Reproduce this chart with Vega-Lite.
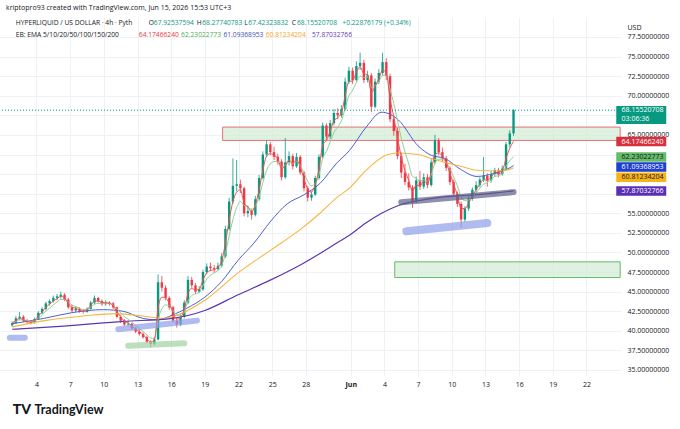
{
  "$schema": "https://vega.github.io/schema/vega-lite/v6.json",
  "autosize": "none",
  "width": 621,
  "height": 359,
  "padding": {"left": 0, "top": 17, "right": 59, "bottom": 53},
  "background": "#ffffff",
  "title": {
    "text": "kriptopro93 created with TradingView.com, Jun 15, 2026 15:53 UTC+3",
    "anchor": "start", "frame": "group", "offset": 6, "dx": 6,
    "fontSize": 7, "fontWeight": "normal", "color": "#131722"
  },
  "datasets": {
    "candles": [
      {"t":"2026-05-01T20:00","o":40.7,"h":41.2,"l":40.5,"c":41.0,"r":41.0,"g":41.0},
      {"t":"2026-05-02T04:00","o":41.0,"h":41.9,"l":40.9,"c":41.6,"r":41.3,"g":41.2},
      {"t":"2026-05-02T12:00","o":41.6,"h":42.4,"l":41.4,"c":41.8,"r":41.6,"g":41.4},
      {"t":"2026-05-02T20:00","o":41.8,"h":42.0,"l":41.1,"c":41.3,"r":41.4,"g":41.4},
      {"t":"2026-05-03T04:00","o":41.3,"h":41.5,"l":40.9,"c":41.1,"r":41.2,"g":41.3},
      {"t":"2026-05-03T12:00","o":41.1,"h":41.3,"l":40.8,"c":41.0,"r":41.1,"g":41.2},
      {"t":"2026-05-03T20:00","o":41.0,"h":41.7,"l":40.9,"c":41.5,"r":41.3,"g":41.3},
      {"t":"2026-05-04T04:00","o":41.5,"h":42.5,"l":41.4,"c":42.3,"r":41.9,"g":41.6},
      {"t":"2026-05-04T12:00","o":42.3,"h":43.0,"l":42.1,"c":42.8,"r":42.4,"g":42.0},
      {"t":"2026-05-04T20:00","o":42.8,"h":43.7,"l":42.6,"c":43.5,"r":43.0,"g":42.5},
      {"t":"2026-05-05T04:00","o":43.5,"h":44.0,"l":43.2,"c":43.8,"r":43.4,"g":42.9},
      {"t":"2026-05-05T12:00","o":43.8,"h":44.5,"l":43.6,"c":44.2,"r":43.8,"g":43.3},
      {"t":"2026-05-05T20:00","o":44.2,"h":44.7,"l":43.9,"c":44.4,"r":44.1,"g":43.7},
      {"t":"2026-05-06T04:00","o":44.4,"h":45.0,"l":44.1,"c":44.6,"r":44.4,"g":44.0},
      {"t":"2026-05-06T12:00","o":44.6,"h":44.8,"l":43.8,"c":44.0,"r":44.2,"g":44.0},
      {"t":"2026-05-06T20:00","o":44.0,"h":44.2,"l":42.8,"c":43.0,"r":43.5,"g":43.7},
      {"t":"2026-05-07T04:00","o":43.0,"h":43.3,"l":42.4,"c":42.6,"r":43.0,"g":43.3},
      {"t":"2026-05-07T12:00","o":42.6,"h":43.1,"l":42.4,"c":42.8,"r":42.9,"g":43.1},
      {"t":"2026-05-07T20:00","o":42.8,"h":43.0,"l":42.3,"c":42.5,"r":42.7,"g":42.9},
      {"t":"2026-05-08T04:00","o":42.5,"h":42.8,"l":42.2,"c":42.4,"r":42.5,"g":42.7},
      {"t":"2026-05-08T12:00","o":42.4,"h":43.0,"l":42.3,"c":42.8,"r":42.7,"g":42.7},
      {"t":"2026-05-08T20:00","o":42.8,"h":43.8,"l":42.7,"c":43.6,"r":43.2,"g":43.0},
      {"t":"2026-05-09T04:00","o":43.6,"h":44.5,"l":43.4,"c":44.2,"r":43.8,"g":43.4},
      {"t":"2026-05-09T12:00","o":44.2,"h":44.3,"l":43.6,"c":43.8,"r":43.8,"g":43.5},
      {"t":"2026-05-09T20:00","o":43.8,"h":44.0,"l":43.2,"c":43.4,"r":43.6,"g":43.5},
      {"t":"2026-05-10T04:00","o":43.4,"h":43.9,"l":43.2,"c":43.6,"r":43.6,"g":43.5},
      {"t":"2026-05-10T12:00","o":43.6,"h":43.8,"l":43.2,"c":43.5,"r":43.5,"g":43.5},
      {"t":"2026-05-10T20:00","o":43.5,"h":43.7,"l":42.8,"c":43.0,"r":43.2,"g":43.3},
      {"t":"2026-05-11T04:00","o":43.0,"h":43.1,"l":41.6,"c":41.8,"r":42.4,"g":42.8},
      {"t":"2026-05-11T12:00","o":41.8,"h":42.0,"l":41.0,"c":41.3,"r":41.8,"g":42.3},
      {"t":"2026-05-11T20:00","o":41.3,"h":41.5,"l":40.6,"c":40.8,"r":41.2,"g":41.8},
      {"t":"2026-05-12T04:00","o":40.8,"h":41.3,"l":40.6,"c":40.9,"r":41.0,"g":41.5},
      {"t":"2026-05-12T12:00","o":40.9,"h":41.0,"l":40.1,"c":40.3,"r":40.6,"g":41.1},
      {"t":"2026-05-12T20:00","o":40.3,"h":40.5,"l":39.7,"c":39.9,"r":40.2,"g":40.7},
      {"t":"2026-05-13T04:00","o":39.9,"h":40.2,"l":39.4,"c":39.6,"r":39.9,"g":40.3},
      {"t":"2026-05-13T12:00","o":39.6,"h":39.8,"l":39.0,"c":39.2,"r":39.5,"g":39.9},
      {"t":"2026-05-13T20:00","o":39.2,"h":39.4,"l":38.4,"c":38.6,"r":39.0,"g":39.5},
      {"t":"2026-05-14T04:00","o":38.6,"h":38.8,"l":37.9,"c":38.3,"r":38.6,"g":39.1},
      {"t":"2026-05-14T12:00","o":38.3,"h":39.2,"l":38.1,"c":38.9,"r":38.8,"g":39.0},
      {"t":"2026-05-14T20:00","o":38.9,"h":47.2,"l":38.8,"c":46.2,"r":42.9,"g":41.4},
      {"t":"2026-05-15T04:00","o":46.2,"h":47.0,"l":45.0,"c":45.5,"r":44.3,"g":42.8},
      {"t":"2026-05-15T12:00","o":45.5,"h":45.8,"l":43.9,"c":44.2,"r":44.2,"g":43.3},
      {"t":"2026-05-15T20:00","o":44.2,"h":44.4,"l":42.7,"c":43.0,"r":43.5,"g":43.2},
      {"t":"2026-05-16T04:00","o":43.0,"h":43.2,"l":41.0,"c":41.3,"r":42.3,"g":42.6},
      {"t":"2026-05-16T12:00","o":41.3,"h":41.6,"l":40.4,"c":40.8,"r":41.5,"g":42.0},
      {"t":"2026-05-16T20:00","o":40.8,"h":42.1,"l":40.6,"c":41.8,"r":41.7,"g":41.9},
      {"t":"2026-05-17T04:00","o":41.8,"h":43.9,"l":41.6,"c":43.6,"r":42.7,"g":42.5},
      {"t":"2026-05-17T12:00","o":43.6,"h":47.0,"l":43.4,"c":46.5,"r":44.8,"g":43.8},
      {"t":"2026-05-17T20:00","o":46.5,"h":46.9,"l":45.5,"c":45.8,"r":45.4,"g":44.5},
      {"t":"2026-05-18T04:00","o":45.8,"h":46.1,"l":44.7,"c":45.0,"r":45.2,"g":44.7},
      {"t":"2026-05-18T12:00","o":45.0,"h":45.7,"l":44.8,"c":45.3,"r":45.3,"g":44.9},
      {"t":"2026-05-18T20:00","o":45.3,"h":47.8,"l":45.1,"c":47.5,"r":46.5,"g":45.8},
      {"t":"2026-05-19T04:00","o":47.5,"h":48.6,"l":47.2,"c":48.2,"r":47.4,"g":46.6},
      {"t":"2026-05-19T12:00","o":48.2,"h":48.7,"l":47.6,"c":48.0,"r":47.7,"g":47.1},
      {"t":"2026-05-19T20:00","o":48.0,"h":48.4,"l":47.4,"c":47.9,"r":47.8,"g":47.4},
      {"t":"2026-05-20T04:00","o":47.9,"h":48.7,"l":47.7,"c":48.3,"r":48.1,"g":47.7},
      {"t":"2026-05-20T12:00","o":48.3,"h":49.9,"l":48.1,"c":49.5,"r":48.9,"g":48.3},
      {"t":"2026-05-20T20:00","o":49.5,"h":53.4,"l":49.3,"c":53.0,"r":51.2,"g":49.9},
      {"t":"2026-05-21T04:00","o":53.0,"h":57.0,"l":52.8,"c":56.5,"r":54.1,"g":52.1},
      {"t":"2026-05-21T12:00","o":56.5,"h":62.0,"l":56.2,"c":58.5,"r":56.5,"g":54.2},
      {"t":"2026-05-21T20:00","o":58.5,"h":61.8,"l":57.8,"c":58.7,"r":57.7,"g":55.7},
      {"t":"2026-05-22T04:00","o":58.7,"h":59.3,"l":57.6,"c":58.2,"r":58.0,"g":56.5},
      {"t":"2026-05-22T12:00","o":58.2,"h":58.4,"l":54.6,"c":55.0,"r":56.3,"g":56.0},
      {"t":"2026-05-22T20:00","o":55.0,"h":56.0,"l":54.5,"c":55.3,"r":55.8,"g":55.8},
      {"t":"2026-05-23T04:00","o":55.3,"h":55.6,"l":54.2,"c":54.8,"r":55.2,"g":55.5},
      {"t":"2026-05-23T12:00","o":54.8,"h":57.2,"l":54.6,"c":56.8,"r":56.1,"g":55.9},
      {"t":"2026-05-23T20:00","o":56.8,"h":59.9,"l":56.6,"c":59.5,"r":58.0,"g":57.1},
      {"t":"2026-05-24T04:00","o":59.5,"h":62.9,"l":59.3,"c":62.5,"r":60.5,"g":58.9},
      {"t":"2026-05-24T12:00","o":62.5,"h":64.3,"l":62.2,"c":63.8,"r":62.3,"g":60.5},
      {"t":"2026-05-24T20:00","o":63.8,"h":64.1,"l":62.4,"c":62.8,"r":62.6,"g":61.3},
      {"t":"2026-05-25T04:00","o":62.8,"h":63.5,"l":61.8,"c":62.2,"r":62.4,"g":61.6},
      {"t":"2026-05-25T12:00","o":62.2,"h":62.6,"l":61.2,"c":61.6,"r":62.0,"g":61.6},
      {"t":"2026-05-25T20:00","o":61.6,"h":61.9,"l":59.2,"c":59.6,"r":60.7,"g":60.9},
      {"t":"2026-05-26T04:00","o":59.6,"h":64.6,"l":59.4,"c":61.5,"r":61.1,"g":61.1},
      {"t":"2026-05-26T12:00","o":61.5,"h":62.9,"l":61.1,"c":62.3,"r":61.8,"g":61.5},
      {"t":"2026-05-26T20:00","o":62.3,"h":62.6,"l":60.6,"c":61.0,"r":61.4,"g":61.3},
      {"t":"2026-05-27T04:00","o":61.0,"h":62.7,"l":60.8,"c":62.2,"r":61.8,"g":61.6},
      {"t":"2026-05-27T12:00","o":62.2,"h":62.4,"l":59.9,"c":60.2,"r":60.9,"g":61.1},
      {"t":"2026-05-27T20:00","o":60.2,"h":60.4,"l":57.8,"c":58.2,"r":59.4,"g":60.1},
      {"t":"2026-05-28T04:00","o":58.2,"h":58.5,"l":56.5,"c":57.0,"r":58.1,"g":59.1},
      {"t":"2026-05-28T12:00","o":57.0,"h":57.8,"l":56.6,"c":57.4,"r":57.7,"g":58.5},
      {"t":"2026-05-28T20:00","o":57.4,"h":59.8,"l":57.2,"c":59.5,"r":58.7,"g":58.8},
      {"t":"2026-05-29T04:00","o":59.5,"h":62.5,"l":59.3,"c":62.2,"r":60.6,"g":59.9},
      {"t":"2026-05-29T12:00","o":62.2,"h":66.6,"l":62.0,"c":66.2,"r":63.7,"g":62.0},
      {"t":"2026-05-29T20:00","o":66.2,"h":66.5,"l":64.3,"c":64.8,"r":64.3,"g":62.9},
      {"t":"2026-05-30T04:00","o":64.8,"h":66.9,"l":64.5,"c":66.5,"r":65.5,"g":64.1},
      {"t":"2026-05-30T12:00","o":66.5,"h":68.3,"l":66.2,"c":67.8,"r":66.8,"g":65.3},
      {"t":"2026-05-30T20:00","o":67.8,"h":68.4,"l":67.0,"c":67.5,"r":67.2,"g":66.0},
      {"t":"2026-05-31T04:00","o":67.5,"h":68.8,"l":67.2,"c":68.3,"r":67.8,"g":66.8},
      {"t":"2026-05-31T12:00","o":68.3,"h":72.3,"l":68.1,"c":71.8,"r":70.0,"g":68.4},
      {"t":"2026-05-31T20:00","o":71.8,"h":73.7,"l":71.5,"c":73.2,"r":71.8,"g":70.0},
      {"t":"2026-06-01T04:00","o":73.2,"h":73.6,"l":71.5,"c":72.0,"r":71.9,"g":70.7},
      {"t":"2026-06-01T12:00","o":72.0,"h":74.4,"l":71.8,"c":73.8,"r":73.0,"g":71.7},
      {"t":"2026-06-01T20:00","o":73.8,"h":75.5,"l":73.3,"c":74.2,"r":73.7,"g":72.5},
      {"t":"2026-06-02T04:00","o":74.2,"h":74.6,"l":71.6,"c":72.0,"r":72.8,"g":72.3},
      {"t":"2026-06-02T12:00","o":72.0,"h":73.2,"l":71.7,"c":72.6,"r":72.7,"g":72.4},
      {"t":"2026-06-02T20:00","o":72.6,"h":72.9,"l":67.9,"c":68.6,"r":70.4,"g":71.1},
      {"t":"2026-06-03T04:00","o":68.6,"h":72.2,"l":68.4,"c":71.8,"r":71.2,"g":71.3},
      {"t":"2026-06-03T12:00","o":71.8,"h":73.4,"l":71.5,"c":72.9,"r":72.1,"g":71.8},
      {"t":"2026-06-03T20:00","o":72.9,"h":75.5,"l":72.6,"c":74.3,"r":73.3,"g":72.6},
      {"t":"2026-06-04T04:00","o":74.3,"h":74.8,"l":72.0,"c":72.5,"r":72.9,"g":72.6},
      {"t":"2026-06-04T12:00","o":72.5,"h":72.8,"l":66.6,"c":67.0,"r":69.6,"g":70.8},
      {"t":"2026-06-04T20:00","o":67.0,"h":67.5,"l":64.9,"c":65.5,"r":67.3,"g":69.0},
      {"t":"2026-06-05T04:00","o":65.5,"h":65.9,"l":61.9,"c":62.3,"r":64.6,"g":66.8},
      {"t":"2026-06-05T12:00","o":62.3,"h":62.8,"l":59.5,"c":60.2,"r":62.2,"g":64.6},
      {"t":"2026-06-05T20:00","o":60.2,"h":61.3,"l":58.6,"c":59.0,"r":60.4,"g":62.8},
      {"t":"2026-06-06T04:00","o":59.0,"h":60.1,"l":57.9,"c":58.3,"r":59.2,"g":61.3},
      {"t":"2026-06-06T12:00","o":58.3,"h":58.6,"l":55.7,"c":56.6,"r":57.8,"g":59.7},
      {"t":"2026-06-06T20:00","o":56.6,"h":59.7,"l":56.3,"c":59.2,"r":58.6,"g":59.5},
      {"t":"2026-06-07T04:00","o":59.2,"h":60.4,"l":58.0,"c":58.4,"r":58.5,"g":59.1},
      {"t":"2026-06-07T12:00","o":58.4,"h":60.1,"l":58.1,"c":59.6,"r":59.1,"g":59.3},
      {"t":"2026-06-07T20:00","o":59.6,"h":60.0,"l":58.2,"c":58.6,"r":58.8,"g":59.1},
      {"t":"2026-06-08T04:00","o":58.6,"h":61.9,"l":58.4,"c":61.5,"r":60.3,"g":59.9},
      {"t":"2026-06-08T12:00","o":61.5,"h":65.0,"l":61.3,"c":64.3,"r":62.5,"g":61.4},
      {"t":"2026-06-08T20:00","o":64.3,"h":64.6,"l":62.4,"c":62.8,"r":62.7,"g":61.9},
      {"t":"2026-06-09T04:00","o":62.8,"h":63.4,"l":61.6,"c":62.0,"r":62.3,"g":61.9},
      {"t":"2026-06-09T12:00","o":62.0,"h":62.3,"l":60.4,"c":60.8,"r":61.5,"g":61.5},
      {"t":"2026-06-09T20:00","o":60.8,"h":61.0,"l":58.6,"c":59.0,"r":60.1,"g":60.7},
      {"t":"2026-06-10T04:00","o":59.0,"h":59.3,"l":57.1,"c":57.5,"r":58.7,"g":59.6},
      {"t":"2026-06-10T12:00","o":57.5,"h":57.8,"l":55.8,"c":56.2,"r":57.3,"g":58.5},
      {"t":"2026-06-10T20:00","o":56.2,"h":56.5,"l":53.2,"c":54.2,"r":55.6,"g":57.1},
      {"t":"2026-06-11T04:00","o":54.2,"h":55.9,"l":53.9,"c":55.6,"r":55.6,"g":56.6},
      {"t":"2026-06-11T12:00","o":55.6,"h":57.2,"l":55.3,"c":56.9,"r":56.3,"g":56.7},
      {"t":"2026-06-11T20:00","o":56.9,"h":58.3,"l":56.6,"c":58.0,"r":57.2,"g":57.1},
      {"t":"2026-06-12T04:00","o":58.0,"h":59.1,"l":57.7,"c":58.6,"r":58.0,"g":57.6},
      {"t":"2026-06-12T12:00","o":58.6,"h":59.6,"l":58.3,"c":59.3,"r":58.7,"g":58.2},
      {"t":"2026-06-12T20:00","o":59.3,"h":62.2,"l":59.0,"c":59.8,"r":59.3,"g":58.7},
      {"t":"2026-06-13T04:00","o":59.8,"h":60.1,"l":58.4,"c":59.2,"r":59.2,"g":58.9},
      {"t":"2026-06-13T12:00","o":59.2,"h":60.4,"l":58.9,"c":60.0,"r":59.6,"g":59.3},
      {"t":"2026-06-13T20:00","o":60.0,"h":60.8,"l":59.7,"c":60.5,"r":60.1,"g":59.7},
      {"t":"2026-06-14T04:00","o":60.5,"h":60.8,"l":59.6,"c":60.0,"r":60.0,"g":59.8},
      {"t":"2026-06-14T12:00","o":60.0,"h":61.1,"l":59.8,"c":60.7,"r":60.4,"g":60.1},
      {"t":"2026-06-14T20:00","o":60.7,"h":64.1,"l":60.5,"c":63.8,"r":62.0,"g":61.0},
      {"t":"2026-06-15T04:00","o":63.8,"h":65.6,"l":63.4,"c":65.2,"r":63.3,"g":61.7},
      {"t":"2026-06-15T12:00","o":65.2,"h":68.28,"l":64.9,"c":68.16,"r":64.17,"g":62.23}
    ],
    "ema": [
      {"t":"2026-05-01T20:00","k":"e50","v":40.9},
      {"t":"2026-05-04T17:00","k":"e50","v":41.6},
      {"t":"2026-05-07T02:00","k":"e50","v":42.3},
      {"t":"2026-05-09T23:00","k":"e50","v":42.7},
      {"t":"2026-05-11T17:00","k":"e50","v":42.5},
      {"t":"2026-05-13T11:00","k":"e50","v":41.6},
      {"t":"2026-05-14T19:00","k":"e50","v":41.4},
      {"t":"2026-05-16T02:00","k":"e50","v":42.0},
      {"t":"2026-05-17T10:00","k":"e50","v":42.9},
      {"t":"2026-05-19T00:00","k":"e50","v":44.3},
      {"t":"2026-05-20T12:00","k":"e50","v":46.3},
      {"t":"2026-05-21T23:00","k":"e50","v":49.0},
      {"t":"2026-05-23T09:00","k":"e50","v":51.2},
      {"t":"2026-05-24T21:00","k":"e50","v":54.0},
      {"t":"2026-05-26T08:00","k":"e50","v":56.2},
      {"t":"2026-05-27T18:00","k":"e50","v":57.3},
      {"t":"2026-05-29T06:00","k":"e50","v":58.8},
      {"t":"2026-05-30T18:00","k":"e50","v":61.4},
      {"t":"2026-05-31T21:00","k":"e50","v":63.0},
      {"t":"2026-06-02T09:00","k":"e50","v":66.0},
      {"t":"2026-06-03T18:00","k":"e50","v":67.9},
      {"t":"2026-06-05T06:00","k":"e50","v":66.9},
      {"t":"2026-06-07T00:00","k":"e50","v":63.6},
      {"t":"2026-06-08T04:00","k":"e50","v":62.4},
      {"t":"2026-06-09T09:00","k":"e50","v":62.0},
      {"t":"2026-06-10T19:00","k":"e50","v":60.6},
      {"t":"2026-06-12T06:00","k":"e50","v":59.7},
      {"t":"2026-06-13T18:00","k":"e50","v":60.1},
      {"t":"2026-06-15T04:00","k":"e50","v":60.8},
      {"t":"2026-06-15T12:00","k":"e50","v":61.09},
      {"t":"2026-05-01T20:00","k":"e100","v":40.5},
      {"t":"2026-05-04T17:00","k":"e100","v":41.3},
      {"t":"2026-05-08T05:00","k":"e100","v":41.9},
      {"t":"2026-05-11T02:00","k":"e100","v":42.2},
      {"t":"2026-05-13T11:00","k":"e100","v":41.9},
      {"t":"2026-05-15T05:00","k":"e100","v":41.6},
      {"t":"2026-05-16T02:00","k":"e100","v":41.8},
      {"t":"2026-05-19T00:00","k":"e100","v":43.9},
      {"t":"2026-05-21T23:00","k":"e100","v":47.4},
      {"t":"2026-05-24T21:00","k":"e100","v":50.3},
      {"t":"2026-05-27T18:00","k":"e100","v":53.2},
      {"t":"2026-05-29T06:00","k":"e100","v":55.0},
      {"t":"2026-05-30T18:00","k":"e100","v":57.0},
      {"t":"2026-05-31T21:00","k":"e100","v":58.2},
      {"t":"2026-06-02T09:00","k":"e100","v":60.5},
      {"t":"2026-06-04T03:00","k":"e100","v":62.4},
      {"t":"2026-06-05T06:00","k":"e100","v":62.7},
      {"t":"2026-06-07T00:00","k":"e100","v":62.5},
      {"t":"2026-06-08T04:00","k":"e100","v":62.0},
      {"t":"2026-06-09T09:00","k":"e100","v":61.5},
      {"t":"2026-06-10T19:00","k":"e100","v":61.0},
      {"t":"2026-06-12T06:00","k":"e100","v":60.5},
      {"t":"2026-06-14T00:00","k":"e100","v":60.4},
      {"t":"2026-06-15T04:00","k":"e100","v":60.6},
      {"t":"2026-06-15T12:00","k":"e100","v":60.81},
      {"t":"2026-05-01T20:00","k":"e200","v":40.2},
      {"t":"2026-05-06T11:00","k":"e200","v":40.6},
      {"t":"2026-05-11T17:00","k":"e200","v":41.2},
      {"t":"2026-05-16T02:00","k":"e200","v":41.6},
      {"t":"2026-05-19T00:00","k":"e200","v":42.6},
      {"t":"2026-05-21T23:00","k":"e200","v":44.6},
      {"t":"2026-05-24T21:00","k":"e200","v":46.5},
      {"t":"2026-05-27T18:00","k":"e200","v":48.6},
      {"t":"2026-05-30T18:00","k":"e200","v":51.2},
      {"t":"2026-05-31T21:00","k":"e200","v":52.2},
      {"t":"2026-06-02T09:00","k":"e200","v":53.8},
      {"t":"2026-06-03T18:00","k":"e200","v":55.0},
      {"t":"2026-06-05T06:00","k":"e200","v":56.0},
      {"t":"2026-06-07T00:00","k":"e200","v":56.6},
      {"t":"2026-06-08T18:00","k":"e200","v":57.0},
      {"t":"2026-06-11T09:00","k":"e200","v":57.3},
      {"t":"2026-06-14T00:00","k":"e200","v":57.6},
      {"t":"2026-06-15T12:00","k":"e200","v":57.87}
    ],
    "zones": [
      {"t1":"2026-05-20T14:00","t2":"2026-06-25T00:00","p1":64.3,"p2":66.0,"k":"res"},
      {"t1":"2026-06-04T22:00","t2":"2026-06-25T00:00","p1":46.8,"p2":48.8,"k":"sup"}
    ],
    "strokes": [
      {"t1":"2026-05-01T15:00","p1":39.1,"t2":"2026-05-02T23:00","p2":39.1,"k":"blue"},
      {"t1":"2026-05-11T07:00","p1":40.2,"t2":"2026-05-18T07:00","p2":41.3,"k":"blue"},
      {"t1":"2026-05-12T04:00","p1":38.1,"t2":"2026-05-17T04:00","p2":38.4,"k":"green"},
      {"t1":"2026-06-05T12:00","p1":56.4,"t2":"2026-06-15T12:00","p2":57.7,"k":"dark"}
    ],
    "bigstroke": [
      {"t1":"2026-06-05T23:00","p1":52.7,"t2":"2026-06-13T04:00","p2":53.75}
    ],
    "tags": [
      {"txt":"64.17466240","at":64.15,"k":"e5"},
      {"txt":"62.23022773","at":62.17,"k":"e10"},
      {"txt":"61.09368953","at":60.9,"k":"e50"},
      {"txt":"60.81234204","at":59.6,"k":"e100"},
      {"txt":"57.87032766","at":57.83,"k":"e200"}
    ],
    "one": [{}]
  },
  "resolve": {
    "scale": {"color": "independent", "stroke": "independent", "fill": "independent", "strokeWidth": "independent"},
    "axis": {"x": "independent", "y": "independent"}
  },
  "layer": [
    {
      "resolve": {"scale": {"color": "independent", "stroke": "independent", "fill": "independent", "strokeWidth": "independent"}},
      "encoding": {
        "x": {
          "field": "t", "type": "temporal",
          "scale": {"domain": [
            {"year": 2026, "month": 5, "date": 1, "hours": 4, "minutes": 41},
            {"year": 2026, "month": 6, "date": 24, "hours": 15, "minutes": 7}
          ]},
          "axis": {
            "title": null,
            "values": [
              {"year": 2026, "month": 5, "date": 4}, {"year": 2026, "month": 5, "date": 7},
              {"year": 2026, "month": 5, "date": 10}, {"year": 2026, "month": 5, "date": 13},
              {"year": 2026, "month": 5, "date": 16}, {"year": 2026, "month": 5, "date": 19},
              {"year": 2026, "month": 5, "date": 22}, {"year": 2026, "month": 5, "date": 25},
              {"year": 2026, "month": 5, "date": 28}, {"year": 2026, "month": 6, "date": 1},
              {"year": 2026, "month": 6, "date": 4}, {"year": 2026, "month": 6, "date": 7},
              {"year": 2026, "month": 6, "date": 10}, {"year": 2026, "month": 6, "date": 13},
              {"year": 2026, "month": 6, "date": 16}, {"year": 2026, "month": 6, "date": 19},
              {"year": 2026, "month": 6, "date": 22}
            ],
            "labelExpr": "date(datum.value) == 1 ? 'Jun' : timeFormat(datum.value, '%-d')",
            "labelFontWeight": {"condition": {"test": "date(datum.value) == 1", "value": "bold"}, "value": "normal"},
            "labelFontSize": 7, "labelColor": "#131722", "labelPadding": 4, "labelOverlap": false,
            "ticks": false, "domain": false, "grid": true, "gridColor": "#eef1f6"
          }
        },
        "y": {
          "field": "l", "type": "quantitative",
          "scale": {"domain": [34.234, 80.05], "nice": false, "zero": false},
          "axis": {
            "orient": "right", "values": [35, 37.5, 40, 42.5, 45, 47.5, 50, 52.5, 55, 57.5, 60, 62.5, 65, 67.5, 70, 72.5, 75, 77.5],
            "labelExpr": "indexof([57.5, 60, 62.5, 67.5], datum.value) >= 0 ? '' : format(datum.value, '.8f')",
            "labelFontSize": 7, "labelColor": "#131722", "labelPadding": 6, "labelOverlap": false,
            "ticks": false, "domain": false, "grid": true, "gridColor": "#eef1f6",
            "title": "USD", "titleAngle": 0, "titleAlign": "left", "titleBaseline": "middle",
            "titleX": 6, "titleY": 10, "titleFontSize": 7, "titleFontWeight": "normal", "titleColor": "#131722"
          }
        }
      },
      "layer": [
        {
          "data": {"name": "zones"},
          "mark": {"type": "rect", "clip": true, "strokeWidth": 1, "fillOpacity": 0.75},
          "encoding": {
            "x": {"field": "t1"},
            "x2": {"field": "t2"},
            "y": {"field": "p1"},
            "y2": {"field": "p2"},
            "fill": {"field": "k", "type": "nominal", "legend": null,
              "scale": {"domain": ["res", "sup"], "range": ["#d4ecd5", "#d4ecd5"]}},
            "stroke": {"field": "k", "type": "nominal", "legend": null,
              "scale": {"domain": ["res", "sup"], "range": ["#e57373", "#66bb6a"]}}
          }
        },
        {
          "data": {"name": "candles"},
          "mark": {"type": "rule", "strokeWidth": 0.8},
          "encoding": {
            "y2": {"field": "h"},
            "color": {"condition": {"test": "datum.c >= datum.o", "value": "#089981"}, "value": "#f23645"}
          }
        },
        {
          "data": {"name": "candles"},
          "mark": {"type": "bar", "size": 2.4},
          "encoding": {
            "y": {"field": "o"},
            "y2": {"field": "c"},
            "color": {"condition": {"test": "datum.c >= datum.o", "value": "#089981"}, "value": "#f23645"}
          }
        },
        {
          "data": {"name": "ema"},
          "mark": {"type": "line", "interpolate": "monotone"},
          "encoding": {
            "y": {"field": "v"},
            "color": {"field": "k", "type": "nominal", "legend": null,
              "scale": {"domain": ["e50", "e100", "e200"], "range": ["#4f5fcf", "#f7b63f", "#5e35b1"]}},
            "strokeWidth": {"field": "k", "type": "nominal", "legend": null,
              "scale": {"domain": ["e50", "e100", "e200"], "range": [1, 1.2, 2]}}
          }
        },
        {
          "data": {"name": "candles"},
          "mark": {"type": "line", "color": "#8fcf96", "strokeWidth": 1, "interpolate": "monotone"},
          "encoding": {"y": {"field": "g"}}
        },
        {
          "data": {"name": "candles"},
          "mark": {"type": "line", "color": "#ef5350", "strokeWidth": 1, "interpolate": "monotone"},
          "encoding": {"y": {"field": "r"}}
        },
        {
          "data": {"name": "strokes"},
          "mark": {"type": "rule", "strokeWidth": 6, "strokeCap": "round", "opacity": 0.7},
          "encoding": {
            "x": {"field": "t1"},
            "x2": {"field": "t2"},
            "y": {"field": "p1"},
            "y2": {"field": "p2"},
            "color": {"field": "k", "type": "nominal", "legend": null,
              "scale": {"domain": ["blue", "green", "dark"], "range": ["#8e9ee8", "#9fd3a2", "#5d6088"]}}
          }
        },
        {
          "data": {"name": "bigstroke"},
          "mark": {"type": "rule", "strokeWidth": 8, "strokeCap": "round", "opacity": 0.7, "color": "#8e9ee8"},
          "encoding": {
            "x": {"field": "t1"},
            "x2": {"field": "t2"},
            "y": {"field": "p1"},
            "y2": {"field": "p2"}
          }
        }
      ]
    },
    {
      "data": {"name": "one"},
      "mark": {"type": "rule", "color": "#089981", "strokeDash": [1, 2], "strokeWidth": 1},
      "encoding": {"y": {"datum": 68.155, "type": "quantitative", "axis": null}}
    },
    {
      "data": {"name": "tags"},
      "mark": {"type": "point", "shape": "M-1,-0.19H1V0.19H-1Z", "size": 2500, "filled": true, "opacity": 1},
      "encoding": {
        "x": {"datum": {"year": 2026, "month": 6, "date": 26, "hours": 21, "minutes": 7}, "type": "temporal", "axis": null},
        "y": {"field": "at", "type": "quantitative", "axis": null},
        "color": {"field": "k", "type": "nominal", "legend": null,
          "scale": {"domain": ["e5", "e10", "e50", "e100", "e200"], "range": ["#d7303e", "#66bb6a", "#2040d0", "#f9b31a", "#5b2fb5"]}}
      }
    },
    {
      "data": {"name": "tags"},
      "mark": {"type": "text", "align": "left", "baseline": "middle", "fontSize": 7},
      "encoding": {
        "x": {"datum": {"year": 2026, "month": 6, "date": 25, "hours": 3, "minutes": 7}, "type": "temporal", "axis": null},
        "y": {"field": "at", "type": "quantitative", "axis": null},
        "text": {"field": "txt"},
        "color": {"field": "k", "type": "nominal", "legend": null,
          "scale": {"domain": ["e5", "e10", "e50", "e100", "e200"], "range": ["#ffffff", "#131722", "#ffffff", "#131722", "#ffffff"]}}
      }
    },
    {
      "data": {"name": "one"},
      "mark": {"type": "point", "shape": "M-1,-0.36H1V0.36H-1Z", "size": 2500, "filled": true, "opacity": 1, "color": "#089981"},
      "encoding": {
        "x": {"datum": {"year": 2026, "month": 6, "date": 26, "hours": 21, "minutes": 7}, "type": "temporal", "axis": null},
        "y": {"datum": 67.53, "type": "quantitative", "axis": null}
      }
    },
    {
      "data": {"name": "one"},
      "mark": {"type": "text", "align": "left", "baseline": "middle", "fontSize": 7, "color": "#ffffff"},
      "encoding": {
        "x": {"datum": {"year": 2026, "month": 6, "date": 25, "hours": 3, "minutes": 7}, "type": "temporal", "axis": null},
        "y": {"datum": 68.155, "type": "quantitative", "axis": null},
        "text": {"value": "68.15520708"}
      }
    },
    {
      "data": {"name": "one"},
      "mark": {"type": "text", "align": "left", "baseline": "middle", "fontSize": 7, "color": "#ffffff"},
      "encoding": {
        "x": {"datum": {"year": 2026, "month": 6, "date": 25, "hours": 3, "minutes": 7}, "type": "temporal", "axis": null},
        "y": {"datum": 67.0, "type": "quantitative", "axis": null},
        "text": {"value": "03:06:36"}
      }
    },
    {
      "data": {"name": "one"},
      "mark": {"type": "text", "align": "left", "baseline": "middle", "fontSize": 6.7, "color": "#131722"},
      "encoding": {
        "x": {"datum": {"year": 2026, "month": 5, "date": 2, "hours": 3, "minutes": 49}, "type": "temporal", "axis": null},
        "y": {"datum": 79.29, "type": "quantitative", "axis": null},
        "text": {"value": "HYPERLIQUID / US DOLLAR · 4h · Pyth"}
      }
    },
    {
      "data": {"name": "one"},
      "mark": {"type": "text", "align": "left", "baseline": "middle", "fontSize": 6.7, "color": "#131722"},
      "encoding": {
        "x": {"datum": {"year": 2026, "month": 5, "date": 14, "hours": 0, "minutes": 0}, "type": "temporal", "axis": null},
        "y": {"datum": 79.29, "type": "quantitative", "axis": null},
        "text": {"value": "O"}
      }
    },
    {
      "data": {"name": "one"},
      "mark": {"type": "text", "align": "left", "baseline": "middle", "fontSize": 6.7, "color": "#089981"},
      "encoding": {
        "x": {"datum": {"year": 2026, "month": 5, "date": 14, "hours": 11, "minutes": 0}, "type": "temporal", "axis": null},
        "y": {"datum": 79.29, "type": "quantitative", "axis": null},
        "text": {"value": "67.92537594"}
      }
    },
    {
      "data": {"name": "one"},
      "mark": {"type": "text", "align": "left", "baseline": "middle", "fontSize": 6.7, "color": "#131722"},
      "encoding": {
        "x": {"datum": {"year": 2026, "month": 5, "date": 18, "hours": 6, "minutes": 55}, "type": "temporal", "axis": null},
        "y": {"datum": 79.29, "type": "quantitative", "axis": null},
        "text": {"value": "H"}
      }
    },
    {
      "data": {"name": "one"},
      "mark": {"type": "text", "align": "left", "baseline": "middle", "fontSize": 6.7, "color": "#089981"},
      "encoding": {
        "x": {"datum": {"year": 2026, "month": 5, "date": 18, "hours": 18, "minutes": 30}, "type": "temporal", "axis": null},
        "y": {"datum": 79.29, "type": "quantitative", "axis": null},
        "text": {"value": "68.27740783"}
      }
    },
    {
      "data": {"name": "one"},
      "mark": {"type": "text", "align": "left", "baseline": "middle", "fontSize": 6.7, "color": "#131722"},
      "encoding": {
        "x": {"datum": {"year": 2026, "month": 5, "date": 22, "hours": 12, "minutes": 0}, "type": "temporal", "axis": null},
        "y": {"datum": 79.29, "type": "quantitative", "axis": null},
        "text": {"value": "L"}
      }
    },
    {
      "data": {"name": "one"},
      "mark": {"type": "text", "align": "left", "baseline": "middle", "fontSize": 6.7, "color": "#089981"},
      "encoding": {
        "x": {"datum": {"year": 2026, "month": 5, "date": 22, "hours": 21, "minutes": 0}, "type": "temporal", "axis": null},
        "y": {"datum": 79.29, "type": "quantitative", "axis": null},
        "text": {"value": "67.42323832"}
      }
    },
    {
      "data": {"name": "one"},
      "mark": {"type": "text", "align": "left", "baseline": "middle", "fontSize": 6.7, "color": "#131722"},
      "encoding": {
        "x": {"datum": {"year": 2026, "month": 5, "date": 26, "hours": 18, "minutes": 0}, "type": "temporal", "axis": null},
        "y": {"datum": 79.29, "type": "quantitative", "axis": null},
        "text": {"value": "C"}
      }
    },
    {
      "data": {"name": "one"},
      "mark": {"type": "text", "align": "left", "baseline": "middle", "fontSize": 6.7, "color": "#089981"},
      "encoding": {
        "x": {"datum": {"year": 2026, "month": 5, "date": 27, "hours": 5, "minutes": 0}, "type": "temporal", "axis": null},
        "y": {"datum": 79.29, "type": "quantitative", "axis": null},
        "text": {"value": "68.15520708"}
      }
    },
    {
      "data": {"name": "one"},
      "mark": {"type": "text", "align": "left", "baseline": "middle", "fontSize": 6.7, "color": "#089981"},
      "encoding": {
        "x": {"datum": {"year": 2026, "month": 5, "date": 31, "hours": 6, "minutes": 0}, "type": "temporal", "axis": null},
        "y": {"datum": 79.29, "type": "quantitative", "axis": null},
        "text": {"value": "+0.22876179 (+0.34%)"}
      }
    },
    {
      "data": {"name": "one"},
      "mark": {"type": "text", "align": "left", "baseline": "middle", "fontSize": 6.7, "color": "#131722"},
      "encoding": {
        "x": {"datum": {"year": 2026, "month": 5, "date": 2, "hours": 3, "minutes": 49}, "type": "temporal", "axis": null},
        "y": {"datum": 77.76, "type": "quantitative", "axis": null},
        "text": {"value": "EB: EMA 5/10/20/50/100/150/200"}
      }
    },
    {
      "data": {"name": "one"},
      "mark": {"type": "text", "align": "left", "baseline": "middle", "fontSize": 6.7, "color": "#e53945"},
      "encoding": {
        "x": {"datum": {"year": 2026, "month": 5, "date": 13, "hours": 2, "minutes": 47}, "type": "temporal", "axis": null},
        "y": {"datum": 77.76, "type": "quantitative", "axis": null},
        "text": {"value": "64.17466240"}
      }
    },
    {
      "data": {"name": "one"},
      "mark": {"type": "text", "align": "left", "baseline": "middle", "fontSize": 6.7, "color": "#4caf50"},
      "encoding": {
        "x": {"datum": {"year": 2026, "month": 5, "date": 16, "hours": 21, "minutes": 16}, "type": "temporal", "axis": null},
        "y": {"datum": 77.76, "type": "quantitative", "axis": null},
        "text": {"value": "62.23022773"}
      }
    },
    {
      "data": {"name": "one"},
      "mark": {"type": "text", "align": "left", "baseline": "middle", "fontSize": 6.7, "color": "#3f51b5"},
      "encoding": {
        "x": {"datum": {"year": 2026, "month": 5, "date": 20, "hours": 15, "minutes": 43}, "type": "temporal", "axis": null},
        "y": {"datum": 77.76, "type": "quantitative", "axis": null},
        "text": {"value": "61.09368953"}
      }
    },
    {
      "data": {"name": "one"},
      "mark": {"type": "text", "align": "left", "baseline": "middle", "fontSize": 6.7, "color": "#f5a623"},
      "encoding": {
        "x": {"datum": {"year": 2026, "month": 5, "date": 24, "hours": 10, "minutes": 11}, "type": "temporal", "axis": null},
        "y": {"datum": 77.76, "type": "quantitative", "axis": null},
        "text": {"value": "60.81234204"}
      }
    },
    {
      "data": {"name": "one"},
      "mark": {"type": "text", "align": "left", "baseline": "middle", "fontSize": 6.7, "color": "#673ab7"},
      "encoding": {
        "x": {"datum": {"year": 2026, "month": 5, "date": 28, "hours": 13, "minutes": 3}, "type": "temporal", "axis": null},
        "y": {"datum": 77.76, "type": "quantitative", "axis": null},
        "text": {"value": "57.87032766"}
      }
    },
    {
      "data": {"name": "one"},
      "mark": {"type": "text", "align": "left", "baseline": "middle", "fontSize": 14, "fontWeight": 900, "font": "Lato", "color": "#131722"},
      "encoding": {
        "x": {"datum": {"year": 2026, "month": 5, "date": 1, "hours": 21, "minutes": 30}, "type": "temporal", "axis": null},
        "y": {"datum": 29.9, "type": "quantitative", "axis": null},
        "text": {"value": "TV"}
      }
    },
    {
      "data": {"name": "one"},
      "mark": {"type": "text", "align": "left", "baseline": "middle", "fontSize": 12.5, "fontWeight": "bold", "font": "Lato", "color": "#131722"},
      "encoding": {
        "x": {"datum": {"year": 2026, "month": 5, "date": 3, "hours": 19, "minutes": 48}, "type": "temporal", "axis": null},
        "y": {"datum": 29.9, "type": "quantitative", "axis": null},
        "text": {"value": "TradingView"}
      }
    }
  ],
  "config": {
    "font": "Open Sans",
    "view": {"stroke": null},
    "axis": {"labelOverlap": false}
  }
}
